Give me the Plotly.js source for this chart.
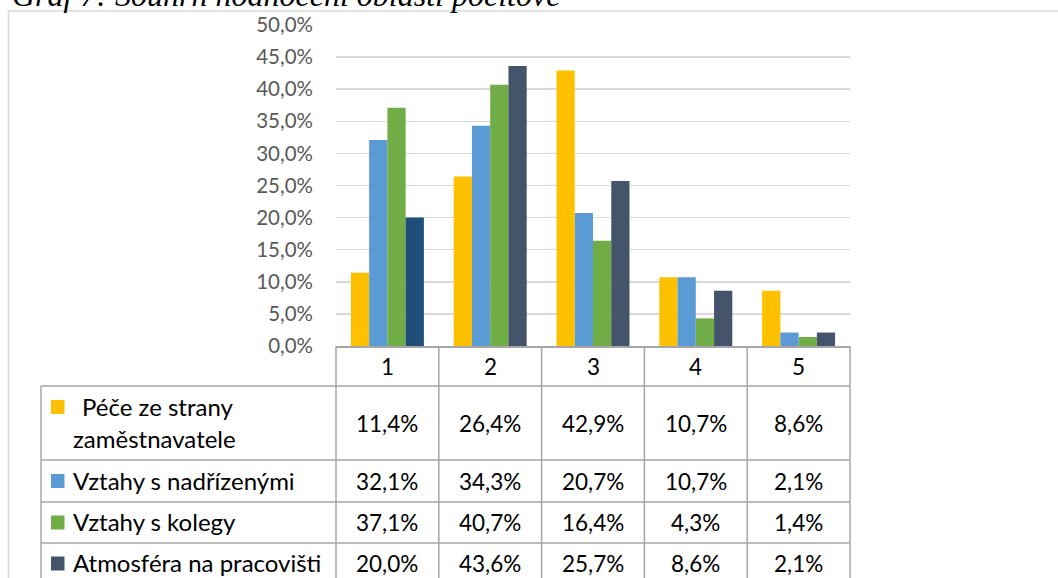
<!DOCTYPE html>
<html><head><meta charset="utf-8">
<script src="https://cdn.plot.ly/plotly-3.0.1.min.js"></script>
<style>html,body{margin:0;padding:0;background:#fff;overflow:hidden;} #chart{width:1058px;height:578px;}</style>
</head><body><div id="chart"></div>
<script>
// ---- data ----
const categories = ['1', '2', '3', '4', '5'];
const seriesNames = ['Péče ze strany zaměstnavatele', 'Vztahy s nadřízenými', 'Vztahy s kolegy', 'Atmosféra na pracovišti'];
const seriesLabelLines = [['Péče ze strany', 'zaměstnavatele'], ['Vztahy s nadřízenými'], ['Vztahy s kolegy'], ['Atmosféra na pracovišti']];
const peceZeStrany = [11.4, 26.4, 42.9, 10.7, 8.6];
const vztahySNadrizenymi = [32.1, 34.3, 20.7, 10.7, 2.1];
const vztahySKolegy = [37.1, 40.7, 16.4, 4.3, 1.4];
const atmosferaNaPracovisti = [20.0, 43.6, 25.7, 8.6, 2.1];
const yTickVals = [0, 5, 10, 15, 20, 25, 30, 35, 40, 45, 50];
const yTickText = ['0,0%', '5,0%', '10,0%', '15,0%', '20,0%', '25,0%', '30,0%', '35,0%', '40,0%', '45,0%', '50,0%'];
const titleText = 'Graf 7: Souhrn hodnocení oblasti pocitové';

// ---- styling ----
const W = 1058, H = 578;
const px = x => x / W;
const py = y => 1 - y / H;
const seriesColors = [
  ['#FFC000', '#FFC000', '#FFC000', '#FFC000', '#FFC000'],
  ['#5B9BD5', '#5B9BD5', '#5B9BD5', '#5B9BD5', '#5B9BD5'],
  ['#70AD47', '#70AD47', '#70AD47', '#70AD47', '#70AD47'],
  ['#1F4E79', '#44546A', '#44546A', '#44546A', '#44546A']
];
const legendColors = ['#FFC000', '#5B9BD5', '#70AD47', '#44546A'];
const seriesData = [peceZeStrany, vztahySNadrizenymi, vztahySKolegy, atmosferaNaPracovisti];

const plotLeft = 336, plotRight = 850, plotTop = 25, plotBottom = 346;
const tableLeft = 41;
const rowEdges = [346, 386, 460, 502, 543, 584];
const lineColor = '#A6A6A6';
const valueFont = {family: 'Lato, "Open Sans", sans-serif', size: 22.5, color: '#000000'};
const labelFont = {family: 'Lato, "Open Sans", sans-serif', size: 24, color: '#000000'};

const fmt = v => v.toFixed(1).replace('.', ',') + '%';

const traces = seriesData.map((ys, s) => ({
  type: 'bar',
  name: seriesNames[s],
  x: categories,
  y: ys,
  marker: {color: seriesColors[s], line: {width: 0}},
  hoverinfo: 'skip',
  showlegend: false
}));

const annotations = [];
const shapes = [];

// title (partially cut at top)
annotations.push({
  xref: 'paper', yref: 'paper', x: px(10), y: py(-5), xanchor: 'left', yanchor: 'middle',
  text: titleText, showarrow: false,
  font: {family: '"Liberation Serif", "Times New Roman", serif', size: 32, color: '#000000', style: 'italic'}
});

// frame
shapes.push({type: 'rect', xref: 'paper', yref: 'paper', x0: px(8.5), x1: 1.05, y0: -0.05, y1: py(11),
  line: {color: '#D9D9D9', width: 1.5}, fillcolor: 'rgba(0,0,0,0)', layer: 'below'});

// header category cells
categories.forEach((c, i) => {
  annotations.push({xref: 'x', yref: 'paper', x: i, y: py((rowEdges[0] + rowEdges[1]) / 2),
    text: c, showarrow: false, font: valueFont, xanchor: 'center', yanchor: 'middle'});
});

// value cells and labels
seriesData.forEach((ys, s) => {
  const top = rowEdges[s + 1], bot = rowEdges[s + 2];
  const mid = (top + bot) / 2;
  ys.forEach((v, i) => {
    annotations.push({xref: 'x', yref: 'paper', x: i, y: py(mid), text: fmt(v), showarrow: false,
      font: valueFont, xanchor: 'center', yanchor: 'middle'});
  });
  const lines = seriesLabelLines[s];
  const lineGap = 32;
  lines.forEach((t, k) => {
    const yc = mid - 1 + (k - (lines.length - 1) / 2) * lineGap;
    annotations.push({xref: 'paper', yref: 'paper', x: px(71), y: py(yc), text: t, showarrow: false,
      font: labelFont, xanchor: 'left', yanchor: 'middle', xshift: (lines.length > 1 && k === 0) ? 9 : 0});
  });
  const sqC = mid + (0 - (lines.length - 1) / 2) * lineGap;
  shapes.push({type: 'rect', xref: 'paper', yref: 'paper', x0: px(51), x1: px(64.5),
    y0: py(sqC + 7), y1: py(sqC - 7), fillcolor: legendColors[s], line: {width: 0}});
});

// table horizontal lines
rowEdges.slice(1, 5).forEach(y => {
  shapes.push({type: 'line', xref: 'paper', yref: 'paper', x0: px(tableLeft), x1: px(plotRight), y0: py(y), y1: py(y),
    line: {color: lineColor, width: 1.5}});
});
// table vertical lines
shapes.push({type: 'line', xref: 'paper', yref: 'paper', x0: px(tableLeft), x1: px(tableLeft), y0: py(rowEdges[1]), y1: -0.05,
  line: {color: lineColor, width: 1.5}});
for (let k = 0; k <= categories.length; k++) {
  const x = plotLeft + k * (plotRight - plotLeft) / categories.length;
  shapes.push({type: 'line', xref: 'paper', yref: 'paper', x0: px(x), x1: px(x), y0: py(rowEdges[0]), y1: -0.05,
    line: {color: lineColor, width: 1.5}});
}

const layout = {
  width: W, height: H,
  margin: {l: 0, r: 0, t: 0, b: 0, pad: 0},
  paper_bgcolor: '#ffffff', plot_bgcolor: '#ffffff',
  barmode: 'group', bargap: 0.29, bargroupgap: 0,
  showlegend: false,
  xaxis: {
    type: 'category', domain: [px(plotLeft), px(plotRight)], range: [-0.5, 4.5],
    showgrid: false, showticklabels: false, ticks: '', zeroline: false,
    showline: true, linecolor: lineColor, linewidth: 1.5, fixedrange: true
  },
  yaxis: {
    domain: [py(plotBottom), py(plotTop)], range: [0, 50],
    tickmode: 'array', tickvals: yTickVals, ticktext: yTickText,
    showgrid: true, gridcolor: '#D9D9D9', gridwidth: 1.5, zeroline: false, showline: false,
    ticks: '', ticklabelstandoff: 22,
    tickfont: {family: 'Lato, "Open Sans", sans-serif', size: 20.5, color: '#595959'},
    fixedrange: true
  },
  annotations: annotations,
  shapes: shapes
};

Plotly.newPlot('chart', traces, layout, {staticPlot: true, displayModeBar: false});
</script>
</body></html>
